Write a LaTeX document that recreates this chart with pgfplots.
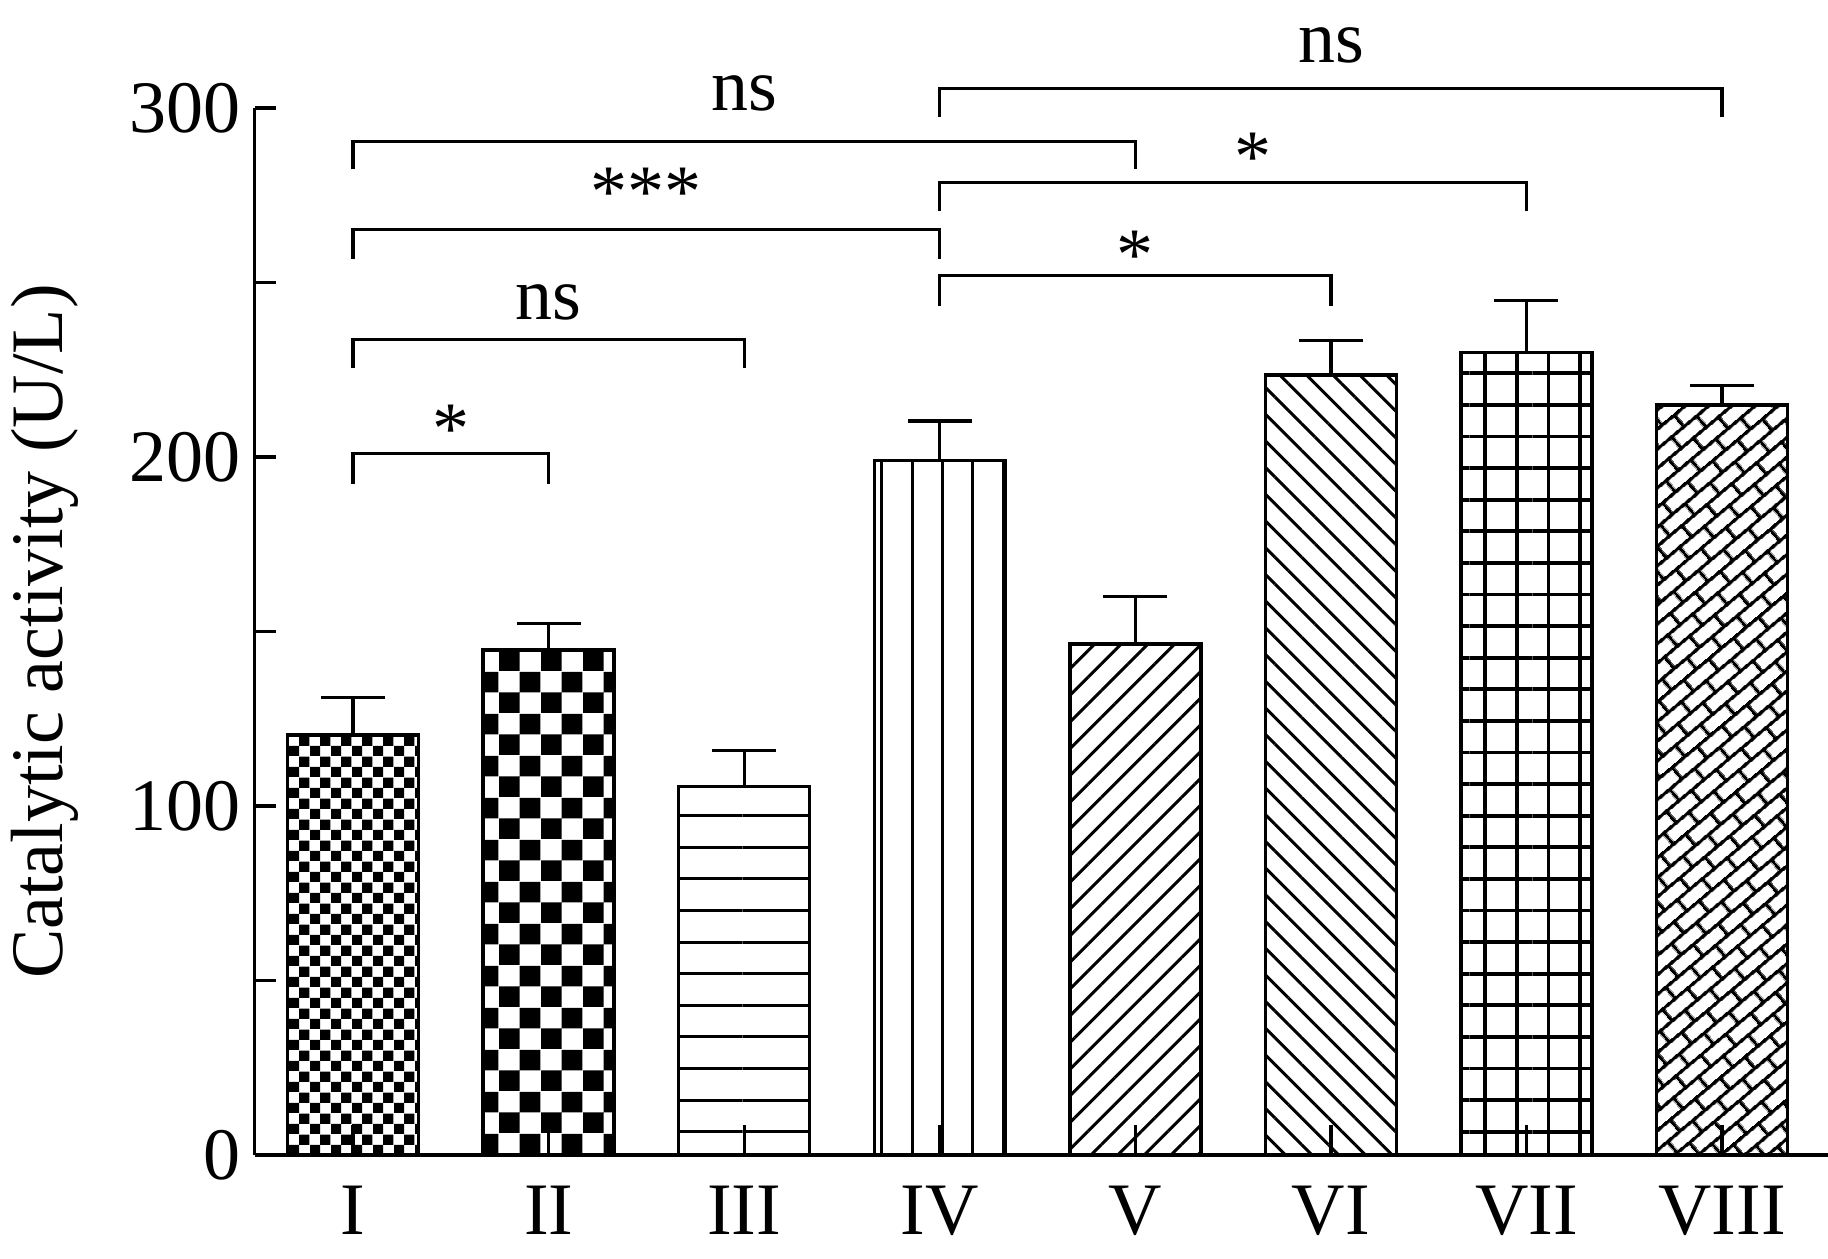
\documentclass[border=0pt]{standalone}
\usepackage{fontspec}
\setmainfont{Liberation Serif}
\usepackage{pgfplots}
\pgfplotsset{compat=1.18}
\usetikzlibrary{patterns,patterns.meta}

\pgfdeclarepattern{name=checkA, type=uncolored,
  bottom left={\pgfpointorigin}, top right={\pgfpoint{5.16pt}{5.16pt}},
  tile size={\pgfpoint{5.16pt}{5.16pt}},
  code={\pgfpathrectangle{\pgfpointorigin}{\pgfpoint{2.58pt}{2.58pt}}%
        \pgfpathrectangle{\pgfpoint{2.58pt}{2.58pt}}{\pgfpoint{2.58pt}{2.58pt}}%
        \pgfusepath{fill}}}
\pgfdeclarepattern{name=checkB, type=uncolored,
  bottom left={\pgfpointorigin}, top right={\pgfpoint{10.4pt}{10.4pt}},
  tile size={\pgfpoint{10.4pt}{10.4pt}},
  code={\pgfpathrectangle{\pgfpointorigin}{\pgfpoint{5.2pt}{5.2pt}}%
        \pgfpathrectangle{\pgfpoint{5.2pt}{5.2pt}}{\pgfpoint{5.2pt}{5.2pt}}%
        \pgfusepath{fill}}}
\pgfdeclarepattern{name=rotbricks, type=uncolored,
  bottom left={\pgfpointorigin}, top right={\pgfpoint{8.2pt}{7.6pt}},
  tile size={\pgfpoint{8.2pt}{7.6pt}},
  tile transformation={\pgftransformrotate{40}},
  code={\pgfsetlinewidth{0.9pt}%
    \pgfpathmoveto{\pgfpoint{-0.5pt}{1.9pt}}\pgfpathlineto{\pgfpoint{8.7pt}{1.9pt}}%
    \pgfpathmoveto{\pgfpoint{-0.5pt}{5.7pt}}\pgfpathlineto{\pgfpoint{8.7pt}{5.7pt}}%
    \pgfpathmoveto{\pgfpoint{2.05pt}{1.9pt}}\pgfpathlineto{\pgfpoint{2.05pt}{5.7pt}}%
    \pgfpathmoveto{\pgfpoint{6.15pt}{5.7pt}}\pgfpathlineto{\pgfpoint{6.15pt}{7.9pt}}%
    \pgfpathmoveto{\pgfpoint{6.15pt}{-0.3pt}}\pgfpathlineto{\pgfpoint{6.15pt}{1.9pt}}%
    \pgfusepath{stroke}}}

\newcommand\fs{\fontsize{18.5}{22}\selectfont}

\pgfplotsset{
  mybar/.style={bar shift=0pt, draw=black, line width=0.85pt, #1,
    error bars/.cd, y dir=plus, y explicit,
    error bar style={line width=0.8pt, black, solid},
    error mark options={line width=0.8pt, mark size=8pt, black, solid, rotate=90}},
}

\begin{document}
\begin{tikzpicture}
\begin{axis}[name=ax, ybar, bar width=0.67,
  scale only axis, width=393.3pt, height=261.75pt,
  xmin=-0.5026, xmax=7.542, ymin=0, ymax=300,
  axis x line*=bottom, axis y line*=left,
  axis line style={line width=0.85pt, -},
  xtick pos=bottom, ytick pos=left,
  ytick={0,100,200,300}, yticklabels={0,100,200,300},
  extra y ticks={50,150,250}, extra y tick labels={},
  xtick={0,1,2,3,4,5,6,7}, xticklabels={I,II,III,IV,V,VI,VII,VIII},
  minor xtick={0,1,2,3,4,5,6,7},
  major tick length=5.2pt, minor tick length=7.5pt,
  tick style={line width=0.8pt, black},
  ticklabel style={font=\fs},
  xticklabel style={yshift=-4.1pt},
  ylabel={Catalytic activity (U/L)},
  ylabel style={font=\fs, at={(axis description cs:-0.1225,0.5)}, anchor=base},
  clip=false, axis on top,
  tick align=inside,
]
\addplot[mybar={pattern=checkA}] coordinates {(0,120.3) +- (0,10.7)};
\addplot[mybar={pattern=checkB}] coordinates {(1,144.7) +- (0,7.5)};
\addplot[mybar={pattern={Lines[angle=0,distance=7.9pt,line width=0.75pt]}}] coordinates {(2,105.6) +- (0,10.3)};
\addplot[mybar={pattern={Lines[angle=90,distance=7.6pt,line width=0.75pt]}}] coordinates {(3,199.0) +- (0,11.3)};
\addplot[mybar={pattern={Lines[angle=45,distance=4.72pt,line width=0.75pt]}}] coordinates {(4,146.4) +- (0,13.6)};
\addplot[mybar={pattern={Lines[angle=-45,distance=4.72pt,line width=0.75pt]}}] coordinates {(5,223.5) +- (0,10.0)};
\addplot[mybar={pattern={Hatch[angle=0,distance=7.9pt,line width=0.95pt]}}] coordinates {(6,230.0) +- (0,14.8)};
\addplot[mybar={pattern=rotbricks}] coordinates {(7,214.9) +- (0,5.7)};

% significance brackets
\draw[line width=0.8pt] (axis cs:0,192.4) -- (axis cs:0,200.9) -- (axis cs:1,200.9) -- (axis cs:1,192.4);
\draw[line width=0.8pt] (axis cs:0,225.6) -- (axis cs:0,233.6) -- (axis cs:2,233.6) -- (axis cs:2,225.6);
\draw[line width=0.8pt] (axis cs:0,256.8) -- (axis cs:0,265.2) -- (axis cs:3,265.2) -- (axis cs:3,256.8);
\draw[line width=0.8pt] (axis cs:0,282.4) -- (axis cs:0,290.5) -- (axis cs:4,290.5) -- (axis cs:4,282.4);
\draw[line width=0.8pt] (axis cs:3,243.4) -- (axis cs:3,251.9) -- (axis cs:5,251.9) -- (axis cs:5,243.4);
\draw[line width=0.8pt] (axis cs:3,270.4) -- (axis cs:3,278.7) -- (axis cs:6,278.7) -- (axis cs:6,270.4);
\draw[line width=0.8pt] (axis cs:3,297.3) -- (axis cs:3,305.7) -- (axis cs:7,305.7) -- (axis cs:7,297.3);
\node[anchor=base, font=\fs, inner sep=0pt] at (axis cs:0.5,200.9) {*};
\node[anchor=base, font=\fs, inner sep=0pt] at (axis cs:1.0,239.5) {ns};
\node[anchor=base, font=\fs, inner sep=0pt] at (axis cs:1.5,269.0) {***};
\node[anchor=base, font=\fs, inner sep=0pt] at (axis cs:2.0,299.3) {ns};
\node[anchor=base, font=\fs, inner sep=0pt] at (axis cs:4.0,250.8) {*};
\node[anchor=base, font=\fs, inner sep=0pt] at (axis cs:4.6,279.0) {*};
\node[anchor=base, font=\fs, inner sep=0pt] at (axis cs:5.0,313.1) {ns};
\end{axis}
\pgfresetboundingbox
\path (ax.south west) ++(-63.7pt,-25.75pt) rectangle ++(457pt,314.5pt);
\end{tikzpicture}
\end{document}
